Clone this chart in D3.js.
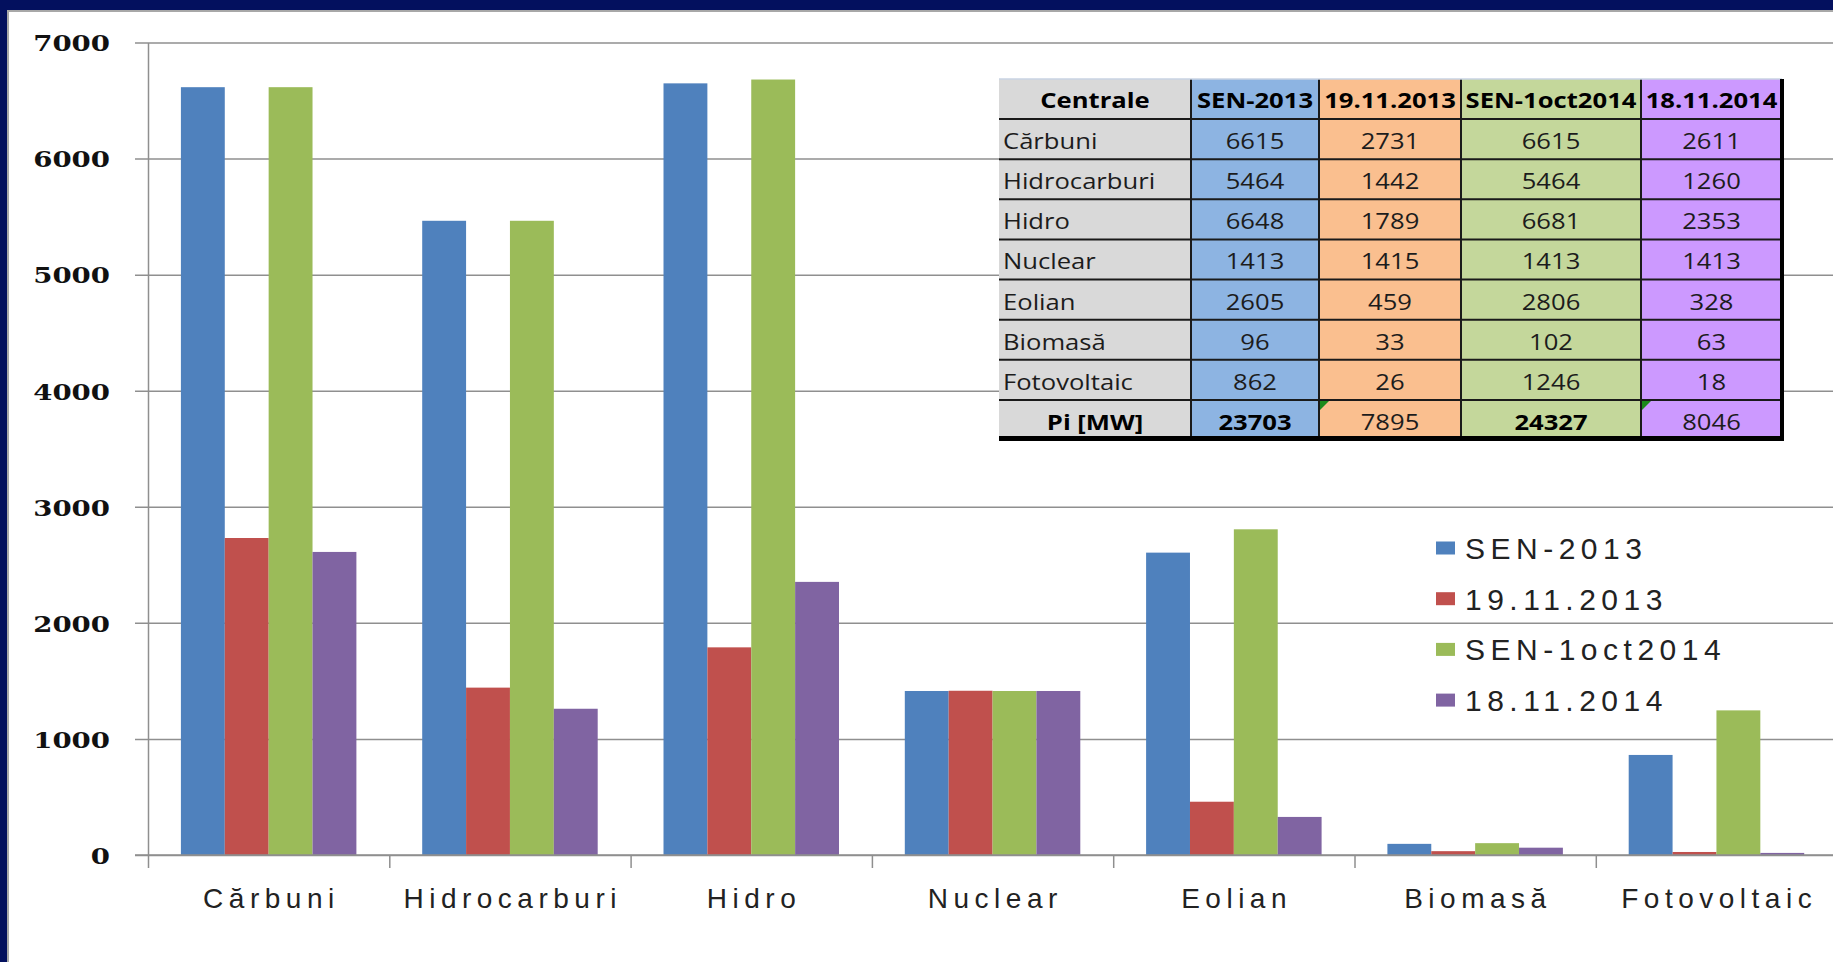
<!DOCTYPE html>
<html><head><meta charset="utf-8">
<script src="https://cdn.jsdelivr.net/npm/d3@7"></script>
<style>html,body{margin:0;padding:0;background:#03105E;overflow:hidden}</style>
</head><body>
<svg id="c" width="1833" height="962"></svg>
<script>
// ---------- data ----------
const categories = ["Cărbuni","Hidrocarburi","Hidro","Nuclear","Eolian","Biomasă","Fotovoltaic"];
const seriesNames = ["SEN-2013","19.11.2013","SEN-1oct2014","18.11.2014"];
const sen2013  = [6615,5464,6648,1413,2605,96,862];
const nov2013  = [2731,1442,1789,1415,459,33,26];
const sen2014  = [6615,5464,6681,1413,2806,102,1246];
const nov2014  = [2611,1260,2353,1413,328,63,18];
const totals   = [23703,7895,24327,8046];
const yTicks   = [0,1000,2000,3000,4000,5000,6000,7000];
const tableHeaderLabel = "Centrale";
const totalLabel = "Pi [MW]";

// ---------- styles ----------
const totalsBold = [true,false,true,false];
const totalsFlag = [false,true,false,true];
const barColors = ["#4F81BD","#C0504D","#9BBB59","#8064A2"];
const colFill = ["#D9D9D9","#8DB4E2","#FABF8F","#C4D79B","#CC99FF"];
const W = 1833, H = 962;

const svg = d3.select("#c");
svg.append("rect").attr("width",W).attr("height",H).attr("fill","#03105E");
svg.append("rect").attr("x",8).attr("y",11).attr("width",W).attr("height",H)
  .attr("fill","#fff").attr("stroke","#a8a8a8").attr("stroke-width",2);

const x0 = 148, step = 241.3;
const x = d3.scaleBand().domain(categories).range([x0, x0 + step*categories.length]);
const xs = d3.scaleBand().domain(seriesNames).range([0, x.bandwidth()]).paddingOuter(0.75);
const y = d3.scaleLinear().domain([0,7000]).range([855,42.5]);

// gridlines
const grid = svg.append("g").attr("transform","translate(135,0)")
  .call(d3.axisRight(y).tickValues(yTicks).tickSize(W-135).tickFormat(""));
grid.select(".domain").remove();
grid.selectAll("line").attr("stroke","#8f8f8f").attr("stroke-width",1.5);

// bars
const series = [sen2013, nov2013, sen2014, nov2014];
svg.append("g").selectAll("g").data(series).join("g")
  .attr("fill",(d,i)=>barColors[i])
  .selectAll("rect").data((d,i)=>d.map((v,j)=>({v, cat:categories[j], s:seriesNames[i]})))
  .join("rect")
  .attr("x",d=>x(d.cat)+xs(d.s)).attr("width",xs.bandwidth())
  .attr("y",d=>y(d.v)).attr("height",d=>y(0)-y(d.v));

// y axis
const ya = svg.append("g").attr("transform",`translate(${x0},0)`)
  .call(d3.axisLeft(y).tickValues(yTicks).tickFormat(d3.format("d")).tickSize(0).tickSizeOuter(0).tickPadding(0));
ya.select(".domain").attr("stroke","#8f8f8f").attr("stroke-width",1.5);
ya.selectAll("text").attr("x",0).attr("dy","0.36em")
  .attr("transform","translate(-38,0) scale(1.2,1)")
  .style("font-family","'DejaVu Serif', serif").style("font-weight","bold")
  .style("font-size","23px").attr("fill","#111");

// x axis line and boundary ticks
const xb = d3.scaleLinear().domain([0,categories.length]).range(x.range());
svg.append("line").attr("x1",135).attr("x2",W).attr("y1",y(0)).attr("y2",y(0))
  .attr("stroke","#8f8f8f").attr("stroke-width",1.5);
const xt = svg.append("g").attr("transform",`translate(0,${y(0)})`)
  .call(d3.axisBottom(xb).tickValues(d3.range(0,categories.length+1)).tickSize(13).tickFormat(""));
xt.select(".domain").remove();
xt.selectAll("line").attr("stroke","#8f8f8f").attr("stroke-width",1.5);

const xl = svg.append("g").attr("transform",`translate(0,${y(0)})`)
  .call(d3.axisBottom(x).tickSize(0));
xl.select(".domain").remove();
xl.selectAll("text").attr("y",53).attr("dy",0).attr("x",2.75)
  .style("font-family","'Liberation Sans', Arial, sans-serif").style("font-size","28px")
  .style("letter-spacing","5.5px").attr("fill","#222");

// legend
const lg = svg.append("g").attr("transform","translate(1436,548)");
const li = lg.selectAll("g").data(seriesNames).join("g")
  .attr("transform",(d,i)=>`translate(0,${i*50.7})`);
li.append("rect").attr("x",0).attr("y",-6.5).attr("width",19).attr("height",13)
  .attr("fill",(d,i)=>barColors[i]);
li.append("text").attr("x",29).attr("y",11).text(d=>d)
  .style("font-family","'Liberation Sans', Arial, sans-serif").style("font-size","30px")
  .style("letter-spacing","5.5px").attr("fill","#222");

// table
const colX = [999,1191,1319,1461,1641,1782];
const rows = [[tableHeaderLabel, ...seriesNames]];
categories.forEach((c,j)=>rows.push([c, sen2013[j], nov2013[j], sen2014[j], nov2014[j]]));
rows.push([totalLabel, ...totals]);
const ty = d3.scaleBand().domain(d3.range(rows.length)).range([79,440]);
const tg = svg.append("g");
rows.forEach((row,r)=>{
  row.forEach((val,c)=>{
    tg.append("rect").attr("x",colX[c]).attr("y",ty(r))
      .attr("width",colX[c+1]-colX[c]).attr("height",ty.bandwidth()+0.5)
      .attr("fill",colFill[c]);
  });
});
tg.selectAll("line.h").data(d3.range(1,rows.length)).join("line")
  .attr("x1",colX[0]).attr("x2",colX[5]).attr("y1",r=>ty(r)).attr("y2",r=>ty(r))
  .attr("stroke","#1a1a1a").attr("stroke-width",2);
tg.selectAll("line.v").data([1,2,3,4]).join("line")
  .attr("x1",c=>colX[c]).attr("x2",c=>colX[c]).attr("y1",79).attr("y2",440)
  .attr("stroke","#1a1a1a").attr("stroke-width",2);
tg.append("line").attr("x1",colX[0]).attr("x2",colX[5]).attr("y1",79).attr("y2",79)
  .attr("stroke","#c9d3e3").attr("stroke-width",1.5);
tg.append("line").attr("x1",colX[5]).attr("x2",colX[5]).attr("y1",79).attr("y2",441)
  .attr("stroke","#000").attr("stroke-width",4);
tg.append("line").attr("x1",colX[0]).attr("x2",colX[5]+2).attr("y1",438.5).attr("y2",438.5)
  .attr("stroke","#000").attr("stroke-width",5);
totals.forEach((t,i)=>{
  if(totalsFlag[i]){
    const px = colX[i+1]+1, py = ty(rows.length-1)+1;
    tg.append("path").attr("d",`M${px},${py}L${px+9},${py}L${px},${py+9}Z`).attr("fill","#1B8A1B");
  }
});
rows.forEach((row,r)=>{
  row.forEach((val,c)=>{
    const last = r===rows.length-1;
    let bold = r===0 || (last && (c===0 || totalsBold[c-1]));
    let leftAlign = c===0 && r>0 && !last;
    const cx = leftAlign ? colX[0]+4 : (colX[c]+colX[c+1])/2;
    const by = ty(r)+ (r===0 ? 29 : 30);
    tg.append("text").text(val)
      .attr("text-anchor", leftAlign ? "start" : "middle")
      .attr("transform",`translate(${cx},${by}) scale(1.22,1)`)
      .style("font-family","'Open Sans', sans-serif").style("font-size","21px")
      .style("font-weight", bold ? "bold" : "normal")
      .attr("fill", bold ? "#000" : "#1c1c1c");
  });
});
</script>
</body></html>
